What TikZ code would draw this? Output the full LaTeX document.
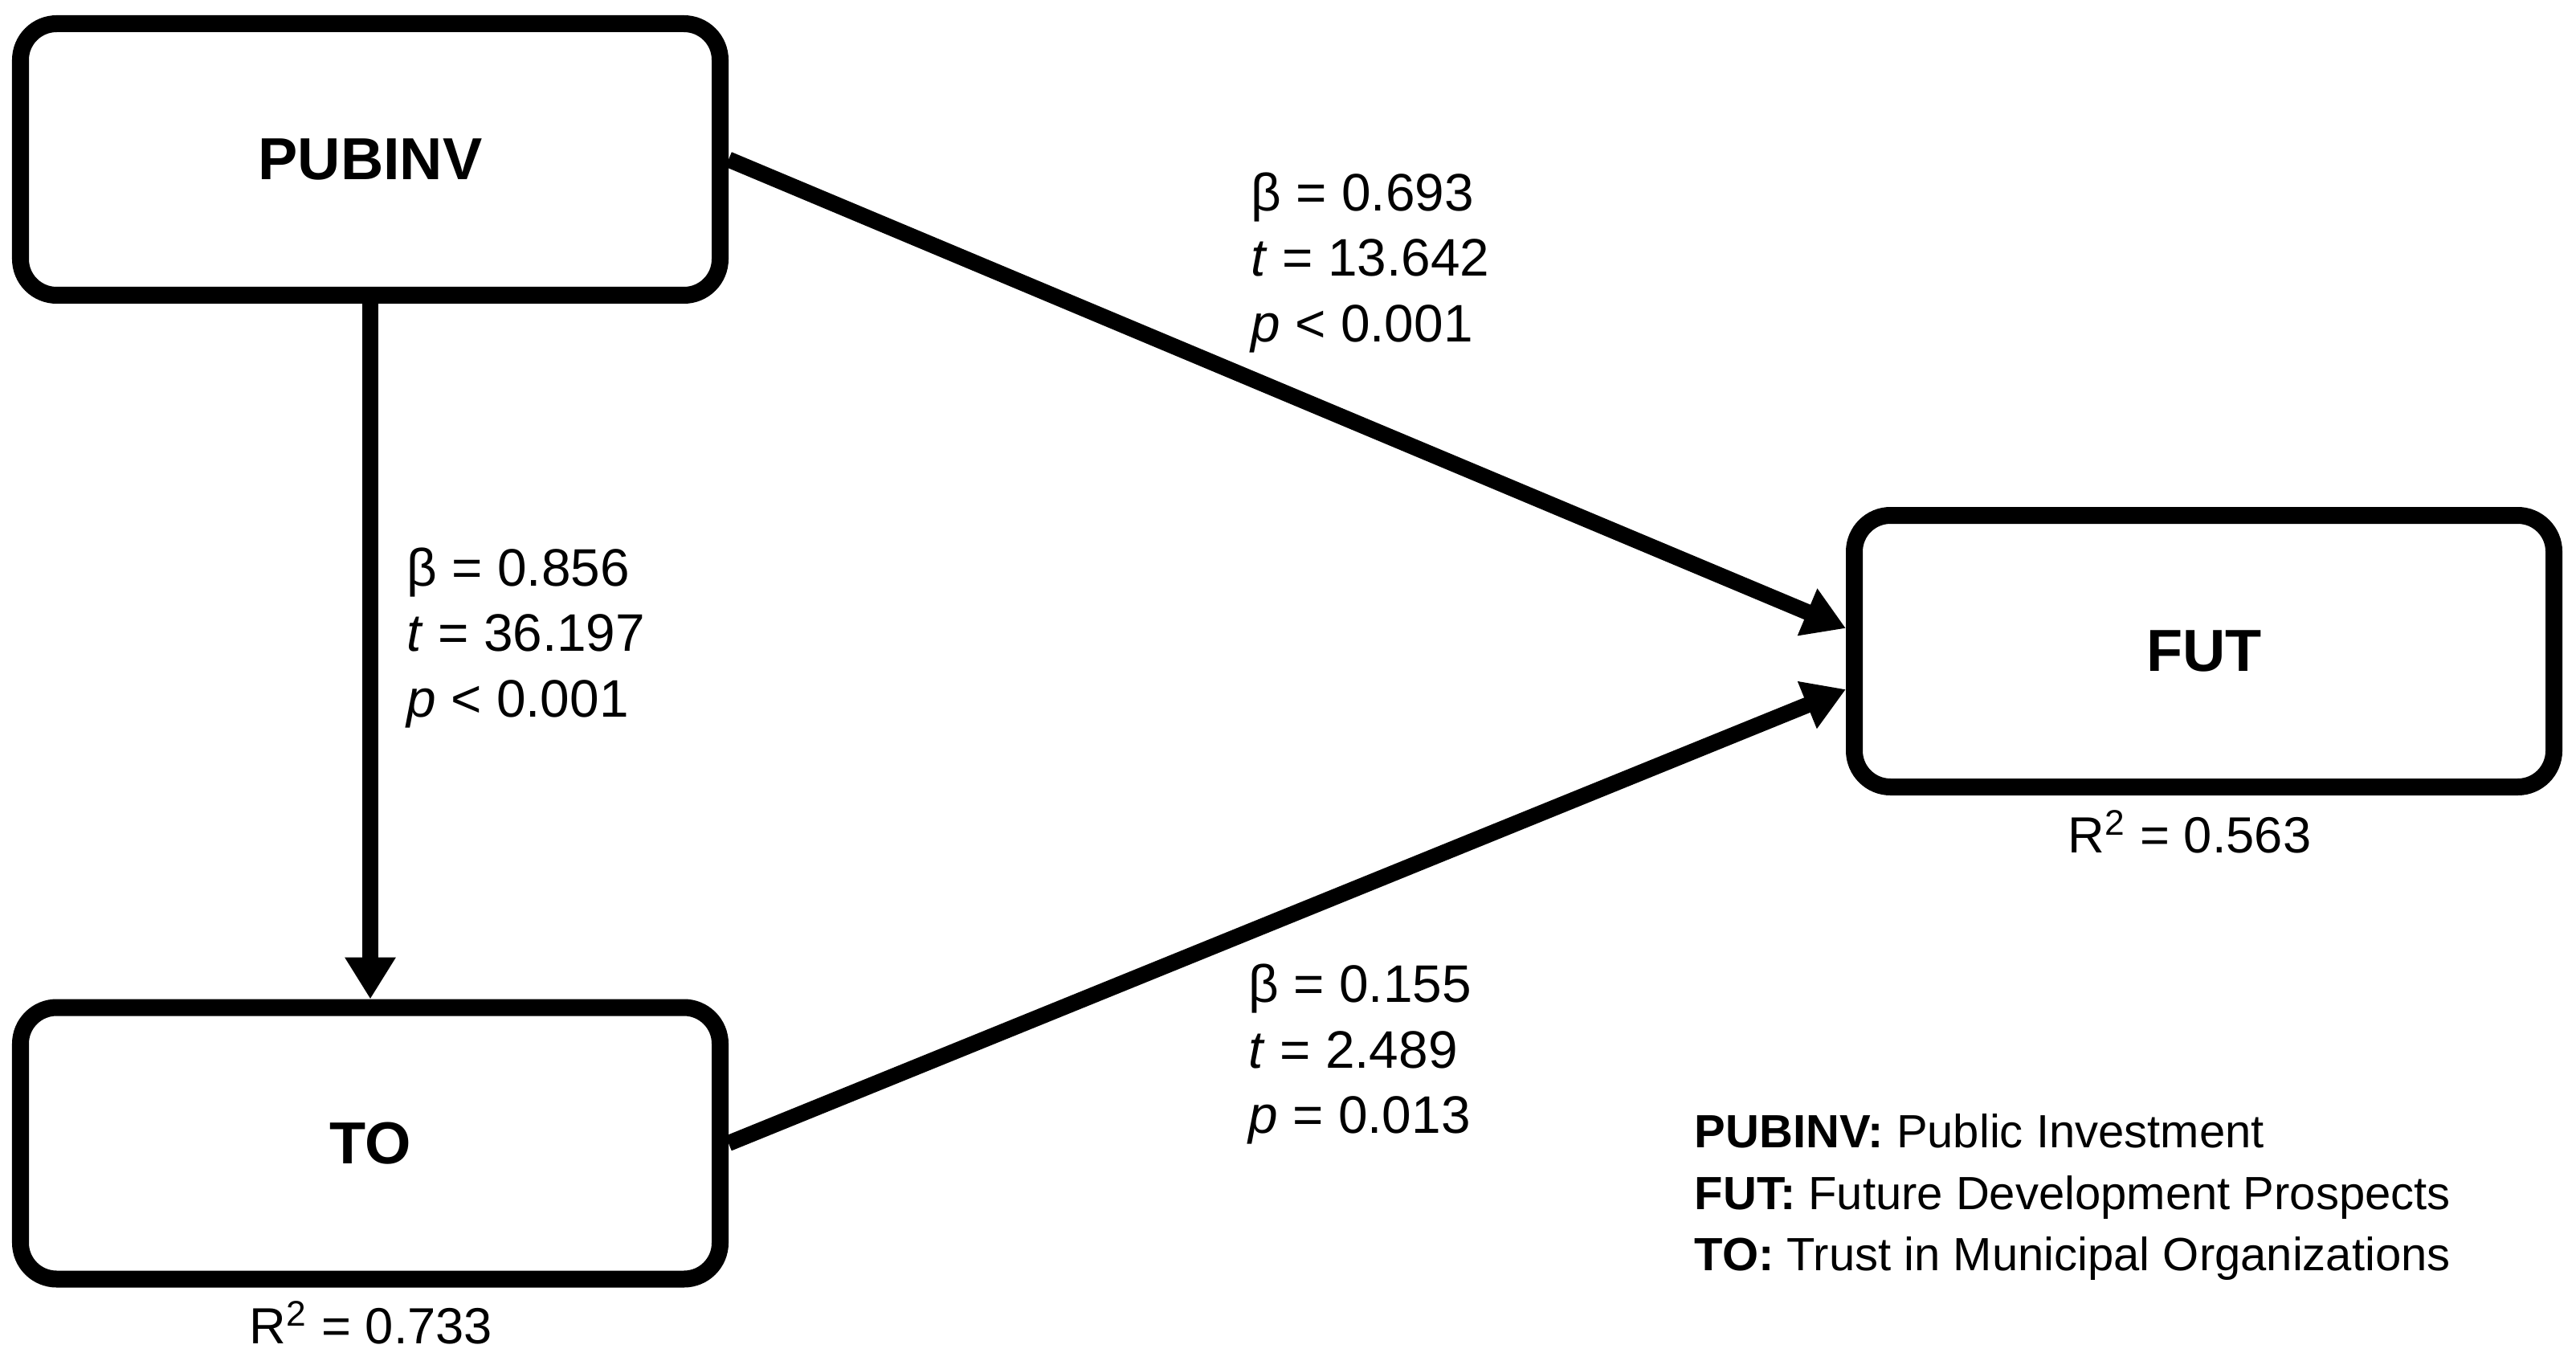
\documentclass[tikz,border=0pt]{standalone}
\usepackage{fontspec}
\setmainfont{Liberation Sans}
\usetikzlibrary{arrows.meta}

\begin{document}
\begin{tikzpicture}[
    caixa/.style={draw, line width=2.1mm, rounded corners=4.5mm, minimum width=8.71cm,
        minimum height=3.38cm, inner sep=0pt, font=\fontsize{21}{25}\selectfont\bfseries},
    seta/.style={-{Triangle[length=5.2mm, width=6mm]}, line width=2mm},
    coef/.style={anchor=west, align=left, inner sep=0pt, font=\fontsize{18.7}{23.3}\selectfont},
    rquad/.style={inner sep=0pt, font=\fontsize{18}{22}\selectfont}]
    \useasboundingbox (0,0) rectangle (32.07,16.93);

    % Construtos
    \node[caixa] (pubinv) at (4.61,14.945) {PUBINV};
    \node[caixa] (to) at (4.61,2.70) {TO};
    \node[caixa] (fut) at (27.44,8.825) {FUT};

    % R2
    \node[rquad] (r2to) at (4.62,0.47) {R\textsuperscript{2} = 0.733};
    \node[rquad] (r2fut) at (27.26,6.58) {R\textsuperscript{2} = 0.563};

    % Caminhos
    \draw[seta] (pubinv.south) -- (to.north);
    \draw[seta] (pubinv.east) -- ([yshift=2.85mm]fut.west);
    \draw[seta] (to.east) -- ([yshift=-4.75mm]fut.west);

    % Coeficientes
    \node[coef] (c1) at (15.57,13.66) {β = 0.693\\\textit{t} = 13.642\\\textit{p} < 0.001};
    \node[coef] (c2) at (5.06,8.99) {β = 0.856\\\textit{t} = 36.197\\\textit{p} < 0.001};
    \node[coef] (c3) at (15.54,3.81) {β = 0.155\\\textit{t} = 2.489\\\textit{p} = 0.013};

    % Legenda
    \node[anchor=west, align=left, inner sep=0pt, font=\fontsize{16.5}{21.8}\selectfont] (leg)
        at (21.09,2.03) {\textbf{PUBINV:} Public Investment\\
        \textbf{FUT:} Future Development Prospects\\
        \textbf{TO:} Trust in Municipal Organizations};
\end{tikzpicture}
\end{document}
